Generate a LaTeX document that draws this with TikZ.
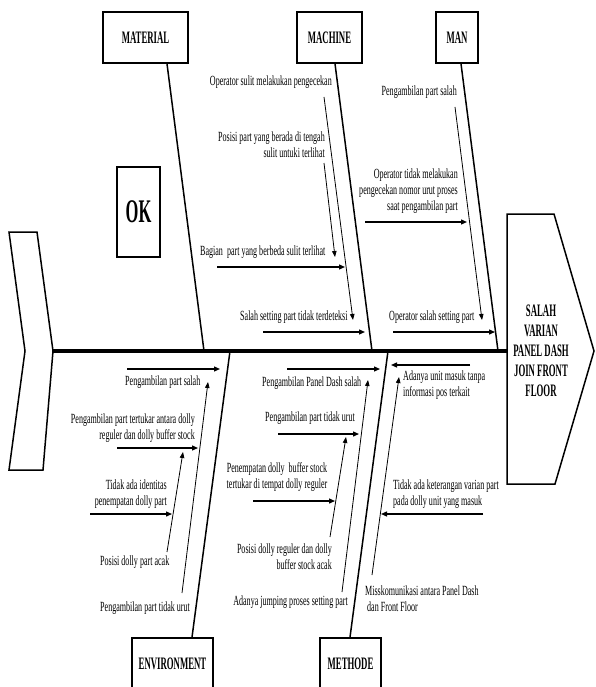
\documentclass[tikz,border=0pt]{standalone}
\usepackage{fontspec}
\setmainfont{Liberation Serif}
\newfontfamily\txtfont{Liberation Serif}[FakeStretch=0.575]
\newfontfamily\hdfont{Liberation Serif}[FakeStretch=0.5]
\usetikzlibrary{arrows.meta,calc}
\begin{document}
\begin{tikzpicture}[x=1pt,y=-1pt,
  lbl/.style={font=\txtfont\fontsize{14}{16}\selectfont, inner sep=0pt},
  catbox/.style={draw, line width=1.6pt, minimum height=51pt, inner sep=0pt,
    font=\hdfont\bfseries\fontsize{17.5}{20}\selectfont},
  bone/.style={line width=1.5pt},
  spine/.style={line width=3.5pt},
  harrow/.style={line width=1.3pt, -{Triangle[length=6pt,width=5pt]}},
  tarrow/.style={line width=0.8pt, -{Triangle[length=6pt,width=4.5pt]}},
  outline/.style={line width=1.5pt, line join=miter}
]
\clip (0,0) rectangle (595,687);

% category boxes
\node[catbox, minimum width=85pt] (material) at (145.5,37.5) {MATERIAL};
\node[catbox, minimum width=65pt] (machine) at (329.5,37.5) {MACHINE};
\node[catbox, minimum width=42pt] (man) at (457,37.5) {MAN};
\node[catbox, minimum width=81pt] (environment) at (172.5,663.5) {ENVIRONMENT};
\node[catbox, minimum width=61pt] (methode) at (350.5,663.5) {METHODE};
\node[draw, line width=1.5pt, minimum width=43pt, minimum height=90pt, inner sep=0pt,
  font=\hdfont\bfseries\fontsize{33}{36}\selectfont] (ok) at (138.5,212) {OK};

% tail
\coordinate (tailtip) at (53,351);
\draw[outline] (9,232) -- (37,232) -- (tailtip) -- (43,470) -- (9,470) -- (25,351) -- cycle;

% head
\coordinate (headL) at (507,351);
\draw[outline] (507,214) -- (554,214) -- (594,351) -- (555,484) -- (507,484) -- cycle;
\node[font=\hdfont\bfseries\fontsize{17.5}{20}\selectfont, align=center, inner sep=0pt]
  (effect) at (541,351) {SALAH\\VARIAN\\PANEL DASH\\JOIN FRONT\\FLOOR};

% spine
\draw[spine] (tailtip) -- (headL);

% bones
\coordinate (matend) at (204,351);
\coordinate (machend) at (372,351);
\coordinate (manend) at (498,351);
\coordinate (envend) at (230,351);
\coordinate (methend) at (388,351);
\draw[bone] ([xshift=21.5pt]material.south) -- (matend);
\draw[bone] ([xshift=5.5pt]machine.south) -- (machend);
\draw[bone] ([xshift=4pt]man.south) -- (manend);
\draw[bone] ([xshift=19.5pt]environment.north) -- (envend);
\draw[bone] ([xshift=-0.5pt]methode.north) -- (methend);

% ---- MACHINE causes
\node[lbl, anchor=east] (t1) at (332,82) {Operator sulit melakukan pengecekan};
\coordinate (a1s) at (324,97); \coordinate (a1e) at (353,320);
\draw[tarrow] (a1s) -- (a1e);
\node[lbl, anchor=east, align=right] (t2) at (325,145) {Posisi part yang berada di tengah\\sulit untuki terlihat};
\coordinate (a2s) at (324,163); \coordinate (a2e) at (335,257);
\draw[tarrow] (a2s) -- (a2e);
\node[lbl, anchor=west] (t3) at (200,252) {Bagian\ \ part yang berbeda sulit terlihat};
\coordinate (h3s) at (217,267); \coordinate (h3e) at (345,267);
\draw[harrow] (h3s) -- (h3e);
\node[lbl, anchor=west] (t4) at (240,317) {Salah setting part tidak terdeteksi};
\coordinate (h4s) at (263,332); \coordinate (h4e) at (365,332);
\draw[harrow] (h4s) -- (h4e);

% ---- MAN causes
\node[lbl, anchor=east] (t5) at (457,92) {Pengambilan part salah};
\coordinate (a5s) at (455,107); \coordinate (a5e) at (482,320);
\draw[tarrow] (a5s) -- (a5e);
\node[lbl, anchor=east, align=right] (t6) at (458,191) {Operator tidak melakukan\\pengecekan nomor urut proses\\saat pengambilan part};
\coordinate (h6s) at (365,222); \coordinate (h6e) at (467,222);
\draw[harrow] (h6s) -- (h6e);
\node[lbl, anchor=west] (t7) at (389,317) {Operator salah setting part};
\coordinate (h7s) at (393,332); \coordinate (h7e) at (495,332);
\draw[harrow] (h7s) -- (h7e);

% ---- ENVIRONMENT causes
\coordinate (h8s) at (127,369); \coordinate (h8e) at (220,369);
\draw[harrow] (h8s) -- (h8e);
\node[lbl, anchor=west] (t8) at (125,382) {Pengambilan part salah};
\coordinate (a8s) at (182,593); \coordinate (a8e) at (208,382);
\draw[tarrow] (a8s) -- (a8e);
\node[lbl, anchor=east, align=right] (t9) at (195,428) {Pengambilan part tertukar antara dolly\\reguler dan dolly buffer stock};
\coordinate (h9s) at (117,448); \coordinate (h9e) at (198,448);
\draw[harrow] (h9s) -- (h9e);
\coordinate (a9s) at (167,552); \coordinate (a9e) at (183,452);
\draw[tarrow] (a9s) -- (a9e);
\node[lbl, anchor=east, align=right] (t10) at (167,494) {Tidak ada identitas\\penempatan dolly part};
\coordinate (h10s) at (90,514); \coordinate (h10e) at (172,514);
\draw[harrow] (h10s) -- (h10e);
\node[lbl, anchor=west] (t11) at (100,562) {Posisi dolly part acak};
\node[lbl, anchor=west] (t12) at (100,608) {Pengambilan part tidak urut};

% ---- METHODE causes (left)
\coordinate (h13s) at (287,369); \coordinate (h13e) at (380,369);
\draw[harrow] (h13s) -- (h13e);
\node[lbl, anchor=west] (t13) at (262,383) {Pengambilan Panel Dash salah};
\coordinate (a13s) at (342,592); \coordinate (a13e) at (368,380);
\draw[tarrow] (a13s) -- (a13e);
\node[lbl, anchor=west] (t14) at (265,418) {Pengambilan part tidak urut};
\coordinate (h14s) at (278,434); \coordinate (h14e) at (359,434);
\draw[harrow] (h14s) -- (h14e);
\coordinate (a14s) at (330,537); \coordinate (a14e) at (346,437);
\draw[tarrow] (a14s) -- (a14e);
\node[lbl, align=center] (t15) at (277,477) {Penempatan dolly\ \ buffer stock\\tertukar di tempat dolly reguler};
\coordinate (h15s) at (253,501); \coordinate (h15e) at (335,501);
\draw[harrow] (h15s) -- (h15e);
\node[lbl, anchor=east, align=right] (t16) at (332,557) {Posisi dolly reguler dan dolly\\buffer stock acak};
\node[lbl, anchor=east] (t17) at (348,602) {Adanya jumping proses setting part};

% ---- METHODE causes (right)
\coordinate (h18s) at (470,365); \coordinate (h18e) at (391,365);
\draw[harrow] (h18s) -- (h18e);
\node[lbl, anchor=west, align=left] (t18) at (403,385) {Adanya unit masuk tanpa\\informasi pos terkait};
\coordinate (a18s) at (372,575); \coordinate (a18e) at (399,377);
\draw[tarrow] (a18s) -- (a18e);
\node[lbl, anchor=west, align=left] (t19) at (393,494) {Tidak ada keterangan varian part\\pada dolly unit yang masuk};
\coordinate (h19s) at (483,514); \coordinate (h19e) at (381,514);
\draw[harrow] (h19s) -- (h19e);
\node[lbl, anchor=west, align=left] (t20) at (365,599) {Misskomunikasi antara Panel Dash\\\ dan Front Floor};
\end{tikzpicture}
\end{document}
